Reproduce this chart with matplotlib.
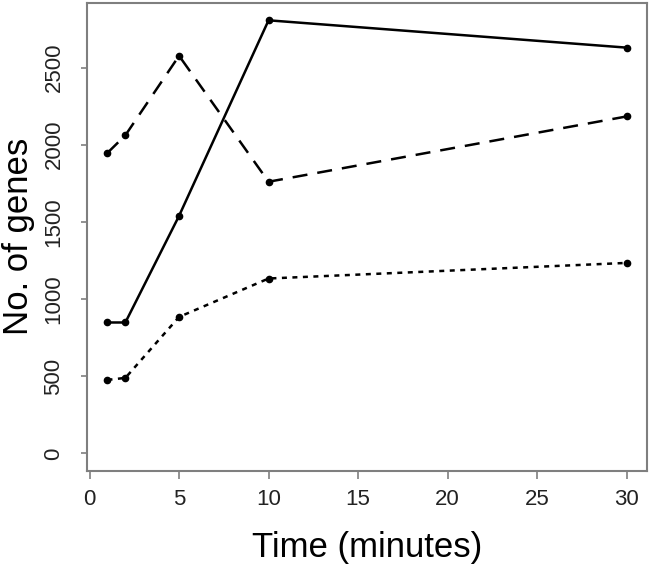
import matplotlib
matplotlib.use("Agg")
import matplotlib.pyplot as plt

plt.rcParams['font.family'] = ['Liberation Sans', 'DejaVu Sans']

# time points (minutes)
time_min = [1, 2, 5, 10, 30]

# number of genes per series
genes_solid = [848, 848, 1539, 2806, 2629]
genes_dashed = [1947, 2061, 2576, 1760, 2183]
genes_dotted = [476, 489, 884, 1133, 1234]

x_ticks = [0, 5, 10, 15, 20, 25, 30]
y_ticks = [0, 500, 1000, 1500, 2000, 2500]

fig = plt.figure(figsize=(6.51, 5.74), dpi=100)
ax = fig.add_axes([0.1332, 0.18, 0.8611, 0.8148])

common = dict(color='black', marker='o', markersize=4.5, linewidth=1.8)
ax.plot(time_min, genes_solid, linestyle='-', **common)
ax.plot(time_min, genes_dashed, linestyle=(0, (6, 4)), **common)
ax.plot(time_min, genes_dotted, linestyle=(0, (2, 2.2)), **common)

# R-style 4% padding, y from 0
xr = max(time_min) - min(time_min)
ax.set_xlim(min(time_min) - 0.04 * xr, max(time_min) + 0.04 * xr)
ymax = max(genes_solid)
ax.set_ylim(-0.04 * ymax, ymax * 1.04)

ax.set_xticks(x_ticks)
ax.set_yticks(y_ticks)
ax.set_yticklabels([str(v) for v in y_ticks], rotation=90, va='center')

for s in ax.spines.values():
    s.set_color('#7f7f7f')
    s.set_linewidth(1.5)
ax.tick_params(axis='x', direction='out', length=6, width=1.2, color='#7f7f7f',
               labelsize=16, labelcolor='#222222', pad=7)
ax.tick_params(axis='y', direction='out', length=4, width=1.2, color='#7f7f7f',
               labelsize=16, labelcolor='#222222', pad=12)

ax.set_xlabel('Time (minutes)', fontsize=25, labelpad=15)
ax.set_ylabel('No. of genes', fontsize=25, labelpad=6)

fig.savefig('out.png', dpi=100)
